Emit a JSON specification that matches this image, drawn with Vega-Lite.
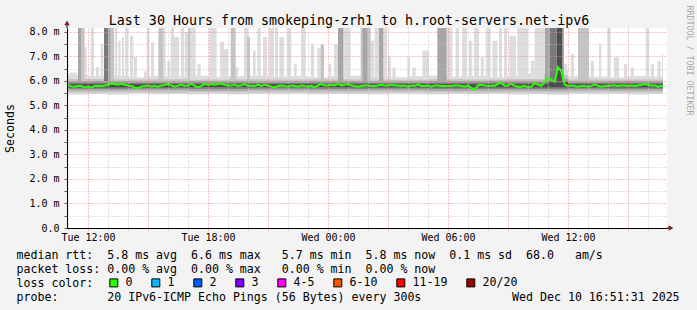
{
"$schema": "https://vega.github.io/schema/vega-lite/v6.json",
"width": 600, "height": 200,
"autosize": {"type": "none"},
"padding": {"left": 67, "top": 28, "right": 30, "bottom": 82},
"background": "#F3F3F3",
"config": {
 "view": {"fill": "white", "stroke": null},
 "axis": {"labelFont": "DejaVu Sans Mono", "titleFont": "DejaVu Sans Mono", "titleFontWeight": "normal", "titleColor": "#000000", "labelColor": "#000000"}
},
"datasets": {
"median": [
{"t":"2025-12-09T10:57Z","v":5.82},{"t":"2025-12-09T11:00Z","v":5.84},{"t":"2025-12-09T11:10Z","v":5.78},{"t":"2025-12-09T11:20Z","v":5.77},{"t":"2025-12-09T11:30Z","v":5.80},{"t":"2025-12-09T11:40Z","v":5.80},{"t":"2025-12-09T11:50Z","v":5.74},
{"t":"2025-12-09T12:00Z","v":5.77},{"t":"2025-12-09T12:10Z","v":5.74},{"t":"2025-12-09T12:20Z","v":5.80},{"t":"2025-12-09T12:30Z","v":5.81},{"t":"2025-12-09T12:40Z","v":5.80},{"t":"2025-12-09T12:50Z","v":5.82},
{"t":"2025-12-09T13:00Z","v":5.85},{"t":"2025-12-09T13:10Z","v":5.90},{"t":"2025-12-09T13:20Z","v":5.88},{"t":"2025-12-09T13:30Z","v":5.85},{"t":"2025-12-09T13:40Z","v":5.90},{"t":"2025-12-09T13:50Z","v":5.85},
{"t":"2025-12-09T14:00Z","v":5.82},{"t":"2025-12-09T14:10Z","v":5.80},{"t":"2025-12-09T14:20Z","v":5.74},{"t":"2025-12-09T14:30Z","v":5.71},{"t":"2025-12-09T14:40Z","v":5.77},{"t":"2025-12-09T14:50Z","v":5.80},
{"t":"2025-12-09T15:00Z","v":5.82},{"t":"2025-12-09T15:10Z","v":5.78},{"t":"2025-12-09T15:20Z","v":5.80},{"t":"2025-12-09T15:30Z","v":5.77},{"t":"2025-12-09T15:40Z","v":5.82},{"t":"2025-12-09T15:50Z","v":5.84},
{"t":"2025-12-09T16:00Z","v":5.88},{"t":"2025-12-09T16:10Z","v":5.82},{"t":"2025-12-09T16:20Z","v":5.77},{"t":"2025-12-09T16:30Z","v":5.80},{"t":"2025-12-09T16:40Z","v":5.85},{"t":"2025-12-09T16:50Z","v":5.80},
{"t":"2025-12-09T17:00Z","v":5.82},{"t":"2025-12-09T17:10Z","v":5.88},{"t":"2025-12-09T17:20Z","v":5.81},{"t":"2025-12-09T17:30Z","v":5.74},{"t":"2025-12-09T17:40Z","v":5.80},{"t":"2025-12-09T17:50Z","v":5.88},
{"t":"2025-12-09T18:00Z","v":5.85},{"t":"2025-12-09T18:10Z","v":5.88},{"t":"2025-12-09T18:20Z","v":5.85},{"t":"2025-12-09T18:30Z","v":5.88},{"t":"2025-12-09T18:40Z","v":5.90},{"t":"2025-12-09T18:50Z","v":5.85},
{"t":"2025-12-09T19:00Z","v":5.82},{"t":"2025-12-09T19:10Z","v":5.82},{"t":"2025-12-09T19:20Z","v":5.85},{"t":"2025-12-09T19:30Z","v":5.80},{"t":"2025-12-09T19:40Z","v":5.82},{"t":"2025-12-09T19:50Z","v":5.88},
{"t":"2025-12-09T20:00Z","v":5.80},{"t":"2025-12-09T20:10Z","v":5.82},{"t":"2025-12-09T20:20Z","v":5.80},{"t":"2025-12-09T20:30Z","v":5.85},{"t":"2025-12-09T20:40Z","v":5.80},{"t":"2025-12-09T20:50Z","v":5.85},
{"t":"2025-12-09T21:00Z","v":5.82},{"t":"2025-12-09T21:10Z","v":5.77},{"t":"2025-12-09T21:20Z","v":5.74},{"t":"2025-12-09T21:30Z","v":5.80},{"t":"2025-12-09T21:40Z","v":5.82},{"t":"2025-12-09T21:50Z","v":5.80},
{"t":"2025-12-09T22:00Z","v":5.77},{"t":"2025-12-09T22:10Z","v":5.82},{"t":"2025-12-09T22:20Z","v":5.80},{"t":"2025-12-09T22:30Z","v":5.77},{"t":"2025-12-09T22:40Z","v":5.82},{"t":"2025-12-09T22:50Z","v":5.80},
{"t":"2025-12-09T23:00Z","v":5.77},{"t":"2025-12-09T23:10Z","v":5.80},{"t":"2025-12-09T23:20Z","v":5.74},{"t":"2025-12-09T23:30Z","v":5.82},{"t":"2025-12-09T23:40Z","v":5.88},{"t":"2025-12-09T23:50Z","v":5.82},
{"t":"2025-12-10T00:00Z","v":5.82},{"t":"2025-12-10T00:10Z","v":5.85},{"t":"2025-12-10T00:20Z","v":5.82},{"t":"2025-12-10T00:30Z","v":5.88},{"t":"2025-12-10T00:40Z","v":5.82},{"t":"2025-12-10T00:50Z","v":5.85},
{"t":"2025-12-10T01:00Z","v":5.88},{"t":"2025-12-10T01:10Z","v":5.82},{"t":"2025-12-10T01:20Z","v":5.80},{"t":"2025-12-10T01:30Z","v":5.77},{"t":"2025-12-10T01:40Z","v":5.80},{"t":"2025-12-10T01:50Z","v":5.82},
{"t":"2025-12-10T02:00Z","v":5.82},{"t":"2025-12-10T02:10Z","v":5.80},{"t":"2025-12-10T02:20Z","v":5.80},{"t":"2025-12-10T02:30Z","v":5.82},{"t":"2025-12-10T02:40Z","v":5.85},{"t":"2025-12-10T02:50Z","v":5.82},
{"t":"2025-12-10T03:00Z","v":5.82},{"t":"2025-12-10T03:10Z","v":5.85},{"t":"2025-12-10T03:20Z","v":5.82},{"t":"2025-12-10T03:30Z","v":5.82},{"t":"2025-12-10T03:40Z","v":5.80},{"t":"2025-12-10T03:50Z","v":5.82},
{"t":"2025-12-10T04:00Z","v":5.77},{"t":"2025-12-10T04:10Z","v":5.82},{"t":"2025-12-10T04:20Z","v":5.80},{"t":"2025-12-10T04:30Z","v":5.85},{"t":"2025-12-10T04:40Z","v":5.80},{"t":"2025-12-10T04:50Z","v":5.80},
{"t":"2025-12-10T05:00Z","v":5.82},{"t":"2025-12-10T05:10Z","v":5.77},{"t":"2025-12-10T05:20Z","v":5.82},{"t":"2025-12-10T05:30Z","v":5.82},{"t":"2025-12-10T05:40Z","v":5.80},{"t":"2025-12-10T05:50Z","v":5.80},
{"t":"2025-12-10T06:00Z","v":5.80},{"t":"2025-12-10T06:10Z","v":5.80},{"t":"2025-12-10T06:20Z","v":5.82},{"t":"2025-12-10T06:30Z","v":5.82},{"t":"2025-12-10T06:40Z","v":5.80},{"t":"2025-12-10T06:50Z","v":5.77},
{"t":"2025-12-10T07:00Z","v":5.82},{"t":"2025-12-10T07:10Z","v":5.71},{"t":"2025-12-10T07:20Z","v":5.66},{"t":"2025-12-10T07:30Z","v":5.82},{"t":"2025-12-10T07:40Z","v":5.85},{"t":"2025-12-10T07:50Z","v":5.82},
{"t":"2025-12-10T08:00Z","v":5.80},{"t":"2025-12-10T08:10Z","v":5.82},{"t":"2025-12-10T08:20Z","v":5.80},{"t":"2025-12-10T08:30Z","v":5.88},{"t":"2025-12-10T08:40Z","v":5.93},{"t":"2025-12-10T08:50Z","v":5.80},
{"t":"2025-12-10T09:00Z","v":5.82},{"t":"2025-12-10T09:10Z","v":5.88},{"t":"2025-12-10T09:20Z","v":5.80},{"t":"2025-12-10T09:30Z","v":5.77},{"t":"2025-12-10T09:40Z","v":5.77},{"t":"2025-12-10T09:50Z","v":5.80},
{"t":"2025-12-10T10:00Z","v":5.74},{"t":"2025-12-10T10:10Z","v":5.77},{"t":"2025-12-10T10:20Z","v":5.92},{"t":"2025-12-10T10:30Z","v":5.85},{"t":"2025-12-10T10:40Z","v":5.80},{"t":"2025-12-10T10:50Z","v":5.95},
{"t":"2025-12-10T11:00Z","v":6.15},{"t":"2025-12-10T11:10Z","v":6.05},{"t":"2025-12-10T11:20Z","v":5.97},{"t":"2025-12-10T11:30Z","v":6.57},{"t":"2025-12-10T11:40Z","v":6.40},{"t":"2025-12-10T11:50Z","v":5.85},
{"t":"2025-12-10T12:00Z","v":5.80},{"t":"2025-12-10T12:10Z","v":5.82},{"t":"2025-12-10T12:20Z","v":5.80},{"t":"2025-12-10T12:30Z","v":5.77},{"t":"2025-12-10T12:40Z","v":5.80},{"t":"2025-12-10T12:50Z","v":5.80},
{"t":"2025-12-10T13:00Z","v":5.77},{"t":"2025-12-10T13:10Z","v":5.80},{"t":"2025-12-10T13:20Z","v":5.85},{"t":"2025-12-10T13:30Z","v":5.80},{"t":"2025-12-10T13:40Z","v":5.77},{"t":"2025-12-10T13:50Z","v":5.80},
{"t":"2025-12-10T14:00Z","v":5.80},{"t":"2025-12-10T14:10Z","v":5.82},{"t":"2025-12-10T14:20Z","v":5.82},{"t":"2025-12-10T14:30Z","v":5.80},{"t":"2025-12-10T14:40Z","v":5.82},{"t":"2025-12-10T14:50Z","v":5.82},
{"t":"2025-12-10T15:00Z","v":5.80},{"t":"2025-12-10T15:10Z","v":5.82},{"t":"2025-12-10T15:20Z","v":5.80},{"t":"2025-12-10T15:30Z","v":5.82},{"t":"2025-12-10T15:40Z","v":5.85},{"t":"2025-12-10T15:50Z","v":5.88},
{"t":"2025-12-10T16:00Z","v":5.85},{"t":"2025-12-10T16:10Z","v":5.82},{"t":"2025-12-10T16:20Z","v":5.82},{"t":"2025-12-10T16:30Z","v":5.77},{"t":"2025-12-10T16:40Z","v":5.80},{"t":"2025-12-10T16:45Z","v":5.80}
],
"smoke": [
{"t1":"2025-12-09T10:57Z","t2":"2025-12-09T12:00Z","lo":5.45,"hi":6.25,"g":"g1"},
{"t1":"2025-12-09T12:00Z","t2":"2025-12-09T13:00Z","lo":5.47,"hi":6.20,"g":"g1"},
{"t1":"2025-12-09T13:00Z","t2":"2025-12-09T14:00Z","lo":5.44,"hi":6.22,"g":"g1"},
{"t1":"2025-12-09T14:00Z","t2":"2025-12-09T15:00Z","lo":5.48,"hi":6.15,"g":"g1"},
{"t1":"2025-12-09T15:00Z","t2":"2025-12-09T16:00Z","lo":5.46,"hi":6.20,"g":"g1"},
{"t1":"2025-12-09T16:00Z","t2":"2025-12-09T17:00Z","lo":5.47,"hi":6.18,"g":"g1"},
{"t1":"2025-12-09T17:00Z","t2":"2025-12-09T18:00Z","lo":5.45,"hi":6.22,"g":"g1"},
{"t1":"2025-12-09T18:00Z","t2":"2025-12-09T19:00Z","lo":5.48,"hi":6.16,"g":"g1"},
{"t1":"2025-12-09T19:00Z","t2":"2025-12-09T20:00Z","lo":5.45,"hi":6.20,"g":"g1"},
{"t1":"2025-12-09T20:00Z","t2":"2025-12-09T21:00Z","lo":5.47,"hi":6.22,"g":"g1"},
{"t1":"2025-12-09T21:00Z","t2":"2025-12-09T22:00Z","lo":5.46,"hi":6.18,"g":"g1"},
{"t1":"2025-12-09T22:00Z","t2":"2025-12-09T23:00Z","lo":5.48,"hi":6.20,"g":"g1"},
{"t1":"2025-12-09T23:00Z","t2":"2025-12-10T00:00Z","lo":5.45,"hi":6.15,"g":"g1"},
{"t1":"2025-12-10T00:00Z","t2":"2025-12-10T01:00Z","lo":5.47,"hi":6.20,"g":"g1"},
{"t1":"2025-12-10T01:00Z","t2":"2025-12-10T02:00Z","lo":5.46,"hi":6.22,"g":"g1"},
{"t1":"2025-12-10T02:00Z","t2":"2025-12-10T03:00Z","lo":5.45,"hi":6.18,"g":"g1"},
{"t1":"2025-12-10T03:00Z","t2":"2025-12-10T04:00Z","lo":5.48,"hi":6.15,"g":"g1"},
{"t1":"2025-12-10T04:00Z","t2":"2025-12-10T05:00Z","lo":5.46,"hi":6.20,"g":"g1"},
{"t1":"2025-12-10T05:00Z","t2":"2025-12-10T06:00Z","lo":5.45,"hi":6.22,"g":"g1"},
{"t1":"2025-12-10T06:00Z","t2":"2025-12-10T07:00Z","lo":5.47,"hi":6.18,"g":"g1"},
{"t1":"2025-12-10T07:00Z","t2":"2025-12-10T08:00Z","lo":5.46,"hi":6.20,"g":"g1"},
{"t1":"2025-12-10T08:00Z","t2":"2025-12-10T09:00Z","lo":5.48,"hi":6.16,"g":"g1"},
{"t1":"2025-12-10T09:00Z","t2":"2025-12-10T10:00Z","lo":5.45,"hi":6.20,"g":"g1"},
{"t1":"2025-12-10T10:00Z","t2":"2025-12-10T11:00Z","lo":5.46,"hi":6.30,"g":"g1"},
{"t1":"2025-12-10T11:00Z","t2":"2025-12-10T12:00Z","lo":5.44,"hi":6.45,"g":"g1"},
{"t1":"2025-12-10T12:00Z","t2":"2025-12-10T13:00Z","lo":5.47,"hi":6.20,"g":"g1"},
{"t1":"2025-12-10T13:00Z","t2":"2025-12-10T14:00Z","lo":5.46,"hi":6.18,"g":"g1"},
{"t1":"2025-12-10T14:00Z","t2":"2025-12-10T15:00Z","lo":5.48,"hi":6.15,"g":"g1"},
{"t1":"2025-12-10T15:00Z","t2":"2025-12-10T16:00Z","lo":5.45,"hi":6.20,"g":"g1"},
{"t1":"2025-12-10T16:00Z","t2":"2025-12-10T16:45Z","lo":5.47,"hi":6.18,"g":"g1"},
{"t1":"2025-12-09T11:06Z","t2":"2025-12-09T11:27Z","lo":6.0,"hi":6.35,"g":"g1"},
{"t1":"2025-12-09T11:50Z","t2":"2025-12-09T11:56Z","lo":6.0,"hi":7.39,"g":"g1"},
{"t1":"2025-12-09T12:08Z","t2":"2025-12-09T12:18Z","lo":6.0,"hi":8.3,"g":"g1"},
{"t1":"2025-12-09T12:24Z","t2":"2025-12-09T12:33Z","lo":6.0,"hi":6.57,"g":"g1"},
{"t1":"2025-12-09T12:38Z","t2":"2025-12-09T12:46Z","lo":6.0,"hi":7.5,"g":"g1"},
{"t1":"2025-12-09T13:20Z","t2":"2025-12-09T13:28Z","lo":6.0,"hi":8.3,"g":"g1"},
{"t1":"2025-12-09T13:31Z","t2":"2025-12-09T13:38Z","lo":6.0,"hi":7.65,"g":"g1"},
{"t1":"2025-12-09T13:42Z","t2":"2025-12-09T13:48Z","lo":6.0,"hi":7.8,"g":"g1"},
{"t1":"2025-12-09T13:51Z","t2":"2025-12-09T14:00Z","lo":6.0,"hi":8.3,"g":"g1"},
{"t1":"2025-12-09T14:06Z","t2":"2025-12-09T14:16Z","lo":6.0,"hi":7.84,"g":"g1"},
{"t1":"2025-12-09T14:18Z","t2":"2025-12-09T14:27Z","lo":6.0,"hi":6.98,"g":"g1"},
{"t1":"2025-12-09T14:48Z","t2":"2025-12-09T14:56Z","lo":6.0,"hi":6.4,"g":"g1"},
{"t1":"2025-12-09T14:56Z","t2":"2025-12-09T15:04Z","lo":6.0,"hi":8.3,"g":"g1"},
{"t1":"2025-12-09T15:09Z","t2":"2025-12-09T15:18Z","lo":6.0,"hi":7.6,"g":"g1"},
{"t1":"2025-12-09T15:46Z","t2":"2025-12-09T15:53Z","lo":6.0,"hi":8.3,"g":"g1"},
{"t1":"2025-12-09T15:58Z","t2":"2025-12-09T16:06Z","lo":6.0,"hi":6.83,"g":"g1"},
{"t1":"2025-12-09T16:08Z","t2":"2025-12-09T16:18Z","lo":6.0,"hi":8.3,"g":"g1"},
{"t1":"2025-12-09T16:18Z","t2":"2025-12-09T16:33Z","lo":6.0,"hi":7.8,"g":"g1"},
{"t1":"2025-12-09T16:38Z","t2":"2025-12-09T16:48Z","lo":6.0,"hi":8.3,"g":"g1"},
{"t1":"2025-12-09T16:50Z","t2":"2025-12-09T17:00Z","lo":6.0,"hi":8.0,"g":"g1"},
{"t1":"2025-12-09T17:06Z","t2":"2025-12-09T17:23Z","lo":6.0,"hi":8.3,"g":"g1"},
{"t1":"2025-12-09T17:28Z","t2":"2025-12-09T17:38Z","lo":6.0,"hi":6.69,"g":"g1"},
{"t1":"2025-12-09T18:03Z","t2":"2025-12-09T18:26Z","lo":6.0,"hi":8.3,"g":"g1"},
{"t1":"2025-12-09T18:36Z","t2":"2025-12-09T18:48Z","lo":6.0,"hi":7.6,"g":"g1"},
{"t1":"2025-12-09T18:48Z","t2":"2025-12-09T19:00Z","lo":6.0,"hi":7.3,"g":"g1"},
{"t1":"2025-12-09T19:23Z","t2":"2025-12-09T19:30Z","lo":6.0,"hi":6.56,"g":"g1"},
{"t1":"2025-12-09T19:48Z","t2":"2025-12-09T20:01Z","lo":6.0,"hi":8.3,"g":"g1"},
{"t1":"2025-12-09T20:15Z","t2":"2025-12-09T20:23Z","lo":6.0,"hi":7.24,"g":"g1"},
{"t1":"2025-12-09T20:28Z","t2":"2025-12-09T20:38Z","lo":6.0,"hi":8.3,"g":"g1"},
{"t1":"2025-12-09T20:45Z","t2":"2025-12-09T20:57Z","lo":6.0,"hi":7.8,"g":"g1"},
{"t1":"2025-12-09T21:03Z","t2":"2025-12-09T21:18Z","lo":6.0,"hi":8.3,"g":"g1"},
{"t1":"2025-12-09T21:21Z","t2":"2025-12-09T21:30Z","lo":6.0,"hi":8.3,"g":"g1"},
{"t1":"2025-12-09T21:34Z","t2":"2025-12-09T21:48Z","lo":6.0,"hi":7.8,"g":"g1"},
{"t1":"2025-12-09T21:56Z","t2":"2025-12-09T22:10Z","lo":6.0,"hi":8.3,"g":"g1"},
{"t1":"2025-12-09T22:18Z","t2":"2025-12-09T22:26Z","lo":6.0,"hi":6.7,"g":"g1"},
{"t1":"2025-12-09T22:39Z","t2":"2025-12-09T22:53Z","lo":6.0,"hi":8.3,"g":"g1"},
{"t1":"2025-12-09T23:08Z","t2":"2025-12-09T23:18Z","lo":6.0,"hi":7.5,"g":"g1"},
{"t1":"2025-12-09T23:28Z","t2":"2025-12-09T23:38Z","lo":6.0,"hi":7.35,"g":"g1"},
{"t1":"2025-12-10T00:03Z","t2":"2025-12-10T00:10Z","lo":6.0,"hi":6.7,"g":"g1"},
{"t1":"2025-12-10T00:18Z","t2":"2025-12-10T00:30Z","lo":6.0,"hi":7.5,"g":"g1"},
{"t1":"2025-12-10T00:46Z","t2":"2025-12-10T01:08Z","lo":6.0,"hi":8.3,"g":"g1"},
{"t1":"2025-12-10T02:08Z","t2":"2025-12-10T02:18Z","lo":6.0,"hi":7.65,"g":"g1"},
{"t1":"2025-12-10T02:20Z","t2":"2025-12-10T02:33Z","lo":6.0,"hi":8.3,"g":"g1"},
{"t1":"2025-12-10T02:46Z","t2":"2025-12-10T02:58Z","lo":6.0,"hi":8.3,"g":"g1"},
{"t1":"2025-12-10T03:00Z","t2":"2025-12-10T03:09Z","lo":6.0,"hi":7.0,"g":"g1"},
{"t1":"2025-12-10T03:13Z","t2":"2025-12-10T03:23Z","lo":6.0,"hi":6.55,"g":"g1"},
{"t1":"2025-12-10T03:58Z","t2":"2025-12-10T04:06Z","lo":6.0,"hi":6.97,"g":"g1"},
{"t1":"2025-12-10T04:13Z","t2":"2025-12-10T04:23Z","lo":6.0,"hi":6.55,"g":"g1"},
{"t1":"2025-12-10T04:43Z","t2":"2025-12-10T05:03Z","lo":6.0,"hi":7.24,"g":"g1"},
{"t1":"2025-12-10T05:56Z","t2":"2025-12-10T06:13Z","lo":6.0,"hi":8.3,"g":"g1"},
{"t1":"2025-12-10T06:23Z","t2":"2025-12-10T06:33Z","lo":6.0,"hi":8.3,"g":"g1"},
{"t1":"2025-12-10T06:42Z","t2":"2025-12-10T06:57Z","lo":6.0,"hi":8.3,"g":"g1"},
{"t1":"2025-12-10T07:03Z","t2":"2025-12-10T07:13Z","lo":6.0,"hi":7.65,"g":"g1"},
{"t1":"2025-12-10T07:18Z","t2":"2025-12-10T07:33Z","lo":6.0,"hi":8.3,"g":"g1"},
{"t1":"2025-12-10T07:38Z","t2":"2025-12-10T07:48Z","lo":6.0,"hi":6.97,"g":"g1"},
{"t1":"2025-12-10T07:53Z","t2":"2025-12-10T08:08Z","lo":6.0,"hi":8.3,"g":"g1"},
{"t1":"2025-12-10T08:13Z","t2":"2025-12-10T08:28Z","lo":6.0,"hi":7.65,"g":"g1"},
{"t1":"2025-12-10T08:33Z","t2":"2025-12-10T08:42Z","lo":6.0,"hi":8.3,"g":"g1"},
{"t1":"2025-12-10T08:48Z","t2":"2025-12-10T08:58Z","lo":6.0,"hi":8.3,"g":"g1"},
{"t1":"2025-12-10T09:04Z","t2":"2025-12-10T09:24Z","lo":6.0,"hi":7.84,"g":"g1"},
{"t1":"2025-12-10T09:28Z","t2":"2025-12-10T10:00Z","lo":6.0,"hi":8.3,"g":"g1"},
{"t1":"2025-12-10T10:08Z","t2":"2025-12-10T10:20Z","lo":6.0,"hi":6.83,"g":"g1"},
{"t1":"2025-12-10T10:20Z","t2":"2025-12-10T10:48Z","lo":6.0,"hi":8.3,"g":"g1"},
{"t1":"2025-12-10T11:48Z","t2":"2025-12-10T11:58Z","lo":6.0,"hi":6.69,"g":"g1"},
{"t1":"2025-12-10T12:08Z","t2":"2025-12-10T12:18Z","lo":6.0,"hi":7.1,"g":"g1"},
{"t1":"2025-12-10T13:08Z","t2":"2025-12-10T13:18Z","lo":6.0,"hi":6.83,"g":"g1"},
{"t1":"2025-12-10T13:33Z","t2":"2025-12-10T13:40Z","lo":6.0,"hi":7.5,"g":"g1"},
{"t1":"2025-12-10T13:58Z","t2":"2025-12-10T14:08Z","lo":6.0,"hi":8.3,"g":"g1"},
{"t1":"2025-12-10T14:18Z","t2":"2025-12-10T14:33Z","lo":6.0,"hi":6.97,"g":"g1"},
{"t1":"2025-12-10T14:48Z","t2":"2025-12-10T14:58Z","lo":6.0,"hi":6.69,"g":"g1"},
{"t1":"2025-12-10T15:08Z","t2":"2025-12-10T15:18Z","lo":6.0,"hi":6.55,"g":"g1"},
{"t1":"2025-12-10T15:53Z","t2":"2025-12-10T16:03Z","lo":6.0,"hi":8.3,"g":"g1"},
{"t1":"2025-12-10T16:08Z","t2":"2025-12-10T16:18Z","lo":6.0,"hi":6.69,"g":"g1"},
{"t1":"2025-12-10T16:28Z","t2":"2025-12-10T16:38Z","lo":6.0,"hi":6.83,"g":"g1"},
{"t1":"2025-12-10T16:42Z","t2":"2025-12-10T16:45Z","lo":6.0,"hi":7.1,"g":"g1"},
{"t1":"2025-12-09T10:57Z","t2":"2025-12-09T13:00Z","lo":5.53,"hi":6.08,"g":"g2"},
{"t1":"2025-12-09T13:00Z","t2":"2025-12-09T15:00Z","lo":5.54,"hi":6.06,"g":"g2"},
{"t1":"2025-12-09T15:00Z","t2":"2025-12-09T17:00Z","lo":5.52,"hi":6.07,"g":"g2"},
{"t1":"2025-12-09T17:00Z","t2":"2025-12-09T19:00Z","lo":5.54,"hi":6.05,"g":"g2"},
{"t1":"2025-12-09T19:00Z","t2":"2025-12-09T21:00Z","lo":5.53,"hi":6.07,"g":"g2"},
{"t1":"2025-12-09T21:00Z","t2":"2025-12-09T23:00Z","lo":5.54,"hi":6.06,"g":"g2"},
{"t1":"2025-12-09T23:00Z","t2":"2025-12-10T01:00Z","lo":5.52,"hi":6.07,"g":"g2"},
{"t1":"2025-12-10T01:00Z","t2":"2025-12-10T03:00Z","lo":5.53,"hi":6.06,"g":"g2"},
{"t1":"2025-12-10T03:00Z","t2":"2025-12-10T05:00Z","lo":5.54,"hi":6.05,"g":"g2"},
{"t1":"2025-12-10T05:00Z","t2":"2025-12-10T07:00Z","lo":5.53,"hi":6.07,"g":"g2"},
{"t1":"2025-12-10T07:00Z","t2":"2025-12-10T09:00Z","lo":5.52,"hi":6.06,"g":"g2"},
{"t1":"2025-12-10T09:00Z","t2":"2025-12-10T11:00Z","lo":5.53,"hi":6.08,"g":"g2"},
{"t1":"2025-12-10T11:00Z","t2":"2025-12-10T12:00Z","lo":5.52,"hi":6.25,"g":"g2"},
{"t1":"2025-12-10T12:00Z","t2":"2025-12-10T14:00Z","lo":5.54,"hi":6.06,"g":"g2"},
{"t1":"2025-12-10T14:00Z","t2":"2025-12-10T16:45Z","lo":5.53,"hi":6.06,"g":"g2"},
{"t1":"2025-12-09T11:39Z","t2":"2025-12-09T11:50Z","lo":6.0,"hi":8.3,"g":"g2"},
{"t1":"2025-12-09T13:08Z","t2":"2025-12-09T13:18Z","lo":6.0,"hi":8.3,"g":"g2"},
{"t1":"2025-12-09T15:31Z","t2":"2025-12-09T15:46Z","lo":6.0,"hi":8.3,"g":"g2"},
{"t1":"2025-12-09T17:00Z","t2":"2025-12-09T17:06Z","lo":6.0,"hi":8.3,"g":"g2"},
{"t1":"2025-12-09T19:08Z","t2":"2025-12-09T19:23Z","lo":6.0,"hi":8.3,"g":"g2"},
{"t1":"2025-12-09T19:57Z","t2":"2025-12-09T20:06Z","lo":6.0,"hi":7.8,"g":"g2"},
{"t1":"2025-12-09T23:38Z","t2":"2025-12-09T23:48Z","lo":6.0,"hi":7.5,"g":"g2"},
{"t1":"2025-12-10T01:38Z","t2":"2025-12-10T02:08Z","lo":6.0,"hi":8.3,"g":"g2"},
{"t1":"2025-12-10T12:30Z","t2":"2025-12-10T13:03Z","lo":6.0,"hi":8.3,"g":"g2"},
{"t1":"2025-12-09T10:57Z","t2":"2025-12-09T14:00Z","lo":5.61,"hi":6.00,"g":"g3"},
{"t1":"2025-12-09T14:00Z","t2":"2025-12-09T17:00Z","lo":5.62,"hi":5.99,"g":"g3"},
{"t1":"2025-12-09T17:00Z","t2":"2025-12-09T20:00Z","lo":5.60,"hi":6.00,"g":"g3"},
{"t1":"2025-12-09T20:00Z","t2":"2025-12-09T23:00Z","lo":5.62,"hi":5.99,"g":"g3"},
{"t1":"2025-12-09T23:00Z","t2":"2025-12-10T02:00Z","lo":5.61,"hi":6.00,"g":"g3"},
{"t1":"2025-12-10T02:00Z","t2":"2025-12-10T05:00Z","lo":5.62,"hi":5.99,"g":"g3"},
{"t1":"2025-12-10T05:00Z","t2":"2025-12-10T08:00Z","lo":5.60,"hi":6.00,"g":"g3"},
{"t1":"2025-12-10T08:00Z","t2":"2025-12-10T11:00Z","lo":5.61,"hi":6.01,"g":"g3"},
{"t1":"2025-12-10T11:00Z","t2":"2025-12-10T12:00Z","lo":5.60,"hi":6.10,"g":"g3"},
{"t1":"2025-12-10T12:00Z","t2":"2025-12-10T14:00Z","lo":5.62,"hi":5.99,"g":"g3"},
{"t1":"2025-12-10T14:00Z","t2":"2025-12-10T16:45Z","lo":5.61,"hi":6.00,"g":"g3"},
{"t1":"2025-12-09T11:30Z","t2":"2025-12-09T11:39Z","lo":6.0,"hi":8.3,"g":"g3"},
{"t1":"2025-12-09T13:01Z","t2":"2025-12-09T13:08Z","lo":6.0,"hi":8.3,"g":"g3"},
{"t1":"2025-12-10T00:30Z","t2":"2025-12-10T00:46Z","lo":6.0,"hi":8.3,"g":"g3"},
{"t1":"2025-12-10T01:44Z","t2":"2025-12-10T01:58Z","lo":6.0,"hi":8.3,"g":"g3"},
{"t1":"2025-12-10T02:33Z","t2":"2025-12-10T02:46Z","lo":6.0,"hi":8.3,"g":"g3"},
{"t1":"2025-12-10T05:28Z","t2":"2025-12-10T05:56Z","lo":6.0,"hi":8.3,"g":"g3"},
{"t1":"2025-12-10T10:50Z","t2":"2025-12-10T11:06Z","lo":6.0,"hi":8.3,"g":"g3"},
{"t1":"2025-12-10T11:43Z","t2":"2025-12-10T11:48Z","lo":6.0,"hi":8.3,"g":"g3"},
{"t1":"2025-12-09T10:57Z","t2":"2025-12-09T14:00Z","lo":5.68,"hi":5.93,"g":"g4"},
{"t1":"2025-12-09T14:00Z","t2":"2025-12-09T17:00Z","lo":5.69,"hi":5.92,"g":"g4"},
{"t1":"2025-12-09T17:00Z","t2":"2025-12-09T20:00Z","lo":5.68,"hi":5.93,"g":"g4"},
{"t1":"2025-12-09T20:00Z","t2":"2025-12-09T23:00Z","lo":5.69,"hi":5.92,"g":"g4"},
{"t1":"2025-12-09T23:00Z","t2":"2025-12-10T02:00Z","lo":5.68,"hi":5.93,"g":"g4"},
{"t1":"2025-12-10T02:00Z","t2":"2025-12-10T05:00Z","lo":5.69,"hi":5.92,"g":"g4"},
{"t1":"2025-12-10T05:00Z","t2":"2025-12-10T08:00Z","lo":5.68,"hi":5.93,"g":"g4"},
{"t1":"2025-12-10T08:00Z","t2":"2025-12-10T11:00Z","lo":5.68,"hi":5.94,"g":"g4"},
{"t1":"2025-12-10T11:00Z","t2":"2025-12-10T12:00Z","lo":5.68,"hi":6.00,"g":"g4"},
{"t1":"2025-12-10T12:00Z","t2":"2025-12-10T14:00Z","lo":5.69,"hi":5.92,"g":"g4"},
{"t1":"2025-12-10T14:00Z","t2":"2025-12-10T16:45Z","lo":5.68,"hi":5.93,"g":"g4"},
{"t1":"2025-12-09T12:48Z","t2":"2025-12-09T13:01Z","lo":6.0,"hi":8.3,"g":"g4"},
{"t1":"2025-12-10T11:06Z","t2":"2025-12-10T11:26Z","lo":6.0,"hi":8.3,"g":"g4"},
{"t1":"2025-12-09T10:57Z","t2":"2025-12-09T17:00Z","lo":5.74,"hi":5.87,"g":"g5"},
{"t1":"2025-12-09T17:00Z","t2":"2025-12-10T02:00Z","lo":5.75,"hi":5.87,"g":"g5"},
{"t1":"2025-12-10T02:00Z","t2":"2025-12-10T11:00Z","lo":5.74,"hi":5.87,"g":"g5"},
{"t1":"2025-12-10T11:00Z","t2":"2025-12-10T12:00Z","lo":5.75,"hi":5.95,"g":"g5"},
{"t1":"2025-12-10T12:00Z","t2":"2025-12-10T16:45Z","lo":5.74,"hi":5.87,"g":"g5"},
{"t1":"2025-12-10T11:26Z","t2":"2025-12-10T11:43Z","lo":6.0,"hi":8.3,"g":"g5"}
]
},
"layer": [
{
 "data": {"name": "smoke"},
 "mark": {"type": "rect", "clip": true},
 "encoding": {
  "x": {"field": "t1", "type": "temporal",
   "scale": {"type": "utc", "domain": [1765277820000, 1765385820000], "nice": false},
   "axis": {"orient": "bottom",
    "values": [1765278000000, 1765281600000, 1765285200000, 1765288800000, 1765292400000, 1765296000000, 1765299600000, 1765303200000, 1765306800000, 1765310400000, 1765314000000, 1765317600000, 1765321200000, 1765324800000, 1765328400000, 1765332000000, 1765335600000, 1765339200000, 1765342800000, 1765346400000, 1765350000000, 1765353600000, 1765357200000, 1765360800000, 1765364400000, 1765368000000, 1765371600000, 1765375200000, 1765378800000, 1765382400000],
    "grid": true, "gridDash": [1, 2], "gridColor": {"condition": {"test": "utchours(datum.value) % 3 == 0", "value": "#EE8A8A"}, "value": "#C4C4C4"},
    "ticks": true, "tickSize": 2, "tickColor": {"condition": {"test": "utchours(datum.value) % 3 == 0", "value": "#EE8A8A"}, "value": "#C4C4C4"},
    "labelExpr": "utchours(datum.value) % 6 == 0 ? utcFormat(datum.value, '%a %H:%M') : ''",
    "labelOverlap": false, "labelFlush": false, "labelFontSize": 10, "labelPadding": 2, "labelBaseline": "top",
    "domain": true, "domainColor": "#000000", "domainWidth": 1, "zindex": 1,
    "title": ["median\u00a0rtt:\u00a0\u00a05.8\u00a0ms\u00a0avg\u00a0\u00a06.6\u00a0ms\u00a0max\u00a0\u00a0\u00a05.7\u00a0ms\u00a0min\u00a0\u00a05.8\u00a0ms\u00a0now\u00a0\u00a00.1\u00a0ms\u00a0sd\u00a0\u00a068.0\u00a0\u00a0\u00a0am/s",
              "packet\u00a0loss:\u00a00.00\u00a0%\u00a0avg\u00a0\u00a00.00\u00a0%\u00a0max\u00a0\u00a0\u00a00.00\u00a0%\u00a0min\u00a0\u00a00.00\u00a0%\u00a0now",
              "loss\u00a0color:",
              "probe:\u00a0\u00a0\u00a0\u00a0\u00a0\u00a0\u00a020\u00a0IPv6-ICMP\u00a0Echo\u00a0Pings\u00a0(56\u00a0Bytes)\u00a0every\u00a0300s\u00a0\u00a0\u00a0\u00a0\u00a0\u00a0\u00a0\u00a0\u00a0\u00a0\u00a0\u00a0\u00a0Wed\u00a0Dec\u00a010\u00a016:51:31\u00a02025"],
    "titleX": -51, "titleY": 30, "titleAlign": "left", "titleBaseline": "alphabetic", "titleFontSize": 11.6, "titleLineHeight": 14, "titleAngle": 0}},
  "x2": {"field": "t2"},
  "y": {"field": "lo", "type": "quantitative", "scale": {"domain": [0, 8.163], "nice": false, "zero": false},
   "axis": {"orient": "left", "values": [0, 0.5, 1, 1.5, 2, 2.5, 3, 3.5, 4, 4.5, 5, 5.5, 6, 6.5, 7, 7.5, 8],
    "grid": true, "gridDash": [1, 2], "gridColor": {"condition": {"test": "datum.value % 1 == 0", "value": "#EE8A8A"}, "value": "#C4C4C4"},
    "ticks": true, "tickSize": 3, "tickColor": "#555555",
    "labelExpr": "datum.value % 1 != 0 ? '' : (datum.value == 0 ? '0.0\u00a0\u00a0' : format(datum.value, '.1f') + '\u00a0m')",
    "labelOverlap": false, "labelFlush": false, "labelFontSize": 10, "labelPadding": 5,
    "domain": true, "domainColor": "#000000", "zindex": 1,
    "title": "Seconds", "titleFontSize": 11.6, "titleX": -57, "titleY": 100, "titleAngle": -90, "titleAlign": "center", "titleBaseline": "middle"}},
  "y2": {"field": "hi"},
  "fill": {"field": "g", "type": "nominal", "scale": {"domain": ["g1", "g2", "g3", "g4", "g5"], "range": ["#DDDDDD", "#C4C4C4", "#A6A6A6", "#7A7A7A", "#4E4E4E"]}, "legend": null}
 }
},
{
 "data": {"name": "median"},
 "mark": {"type": "line", "strokeWidth": 2, "color": "#26FF00", "clip": true},
 "encoding": {
  "x": {"field": "t", "type": "temporal", "axis": null},
  "y": {"field": "v", "type": "quantitative", "axis": null}
 }
},
{
 "data": {"name": "median"},
 "transform": [{"filter": "datum.v > 100"}],
 "mark": {"type": "square", "stroke": "#000000", "strokeWidth": 1, "opacity": 1, "clip": true},
 "encoding": {
  "x": {"field": "t", "type": "temporal", "axis": null},
  "y": {"field": "v", "type": "quantitative", "axis": null},
  "color": {"field": "loss", "type": "nominal",
   "scale": {"domain": ["0", "1", "2", "3", "4-5", "6-10", "11-19", "20/20"], "range": ["#26FF00", "#00B8FF", "#0059FF", "#7E00FF", "#FF00FF", "#FF5500", "#FF0000", "#A10000"]},
   "legend": {"orient": "none", "legendX": 41, "legendY": 249, "direction": "horizontal", "title": null, "symbolType": "square", "symbolSize": 64, "symbolStrokeWidth": 1, "symbolStrokeColor": "#000000", "symbolOpacity": 1, "labelFont": "DejaVu Sans Mono", "labelFontSize": 11.6, "labelColor": "#000000", "labelOffset": 6, "columnPadding": 16, "padding": 0}}
 }
},
{
 "data": {"values": [{"t1": "2025-12-10T16:57Z", "t2": "2025-12-10T17:07Z", "v": 0}]},
 "mark": {"type": "rule", "clip": false, "color": "#000000", "strokeWidth": 1},
 "encoding": {
  "x": {"field": "t1", "type": "temporal", "axis": null},
  "x2": {"field": "t2"},
  "y": {"field": "v", "type": "quantitative", "axis": null}
 }
},
{
 "data": {"values": [{"t": "2025-12-09T10:57Z", "v1": 8.163, "v2": 8.4}]},
 "mark": {"type": "rule", "clip": false, "color": "#000000", "strokeWidth": 1},
 "encoding": {
  "x": {"field": "t", "type": "temporal", "axis": {"orient": "top", "labels": false, "ticks": false, "domain": false, "grid": false, "title": "Last 30 Hours from smokeping-zrh1 to h.root-servers.net-ipv6", "titleX": 281.5, "titleY": -4, "titleAlign": "center", "titleBaseline": "alphabetic", "titleFontSize": 13.3, "titleAngle": 0}},
  "y": {"field": "v1", "type": "quantitative", "axis": {"orient": "right", "labels": false, "ticks": false, "domain": false, "grid": false, "title": "RRDTOOL / TOBI OETIKER", "titleX": 21, "titleY": 32, "titleAngle": 90, "titleAlign": "center", "titleBaseline": "middle", "titleFontSize": 8.3, "titleColor": "#A8A8A8"}},
  "y2": {"field": "v2"}
 }
},
{
 "data": {"values": [{"t": "2025-12-09T10:57Z", "v": 8.37}]},
 "mark": {"type": "point", "shape": "triangle-up", "filled": true, "color": "#8B1A1A", "size": 30, "opacity": 1, "clip": false},
 "encoding": {
  "x": {"field": "t", "type": "temporal", "axis": null},
  "y": {"field": "v", "type": "quantitative", "axis": null}
 }
},
{
 "data": {"values": [{"t": "2025-12-10T17:09Z", "v": 0}]},
 "mark": {"type": "point", "shape": "triangle-right", "filled": true, "color": "#8B1A1A", "size": 30, "opacity": 1, "clip": false},
 "encoding": {
  "x": {"field": "t", "type": "temporal", "axis": null},
  "y": {"field": "v", "type": "quantitative", "axis": null}
 }
}
],
"resolve": {"scale": {"x": "shared", "y": "shared"}, "axis": {"x": "independent", "y": "independent"}}
}
